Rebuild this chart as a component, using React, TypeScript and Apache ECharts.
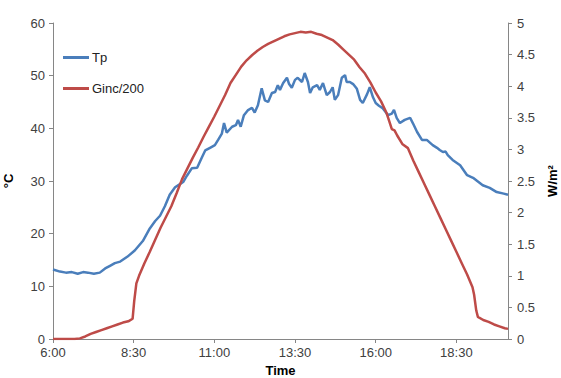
import React, { useEffect, useRef } from "react";
import * as echarts from "echarts";

// Tp (°C), left axis
const tpTimes = [
  "6:00", "6:13", "6:24", "6:35", "6:46", "6:56", "7:05", "7:16", "7:27", "7:37",
  "7:46", "7:55", "8:05", "8:18", "8:32", "8:47", "9:00", "9:10", "9:19", "9:28",
  "9:37", "9:47", "9:56", "10:02", "10:09", "10:18", "10:28", "10:37", "10:43", "10:52",
  "11:01", "11:07", "11:14", "11:18", "11:23", "11:33", "11:40", "11:44", "11:49", "11:55",
  "12:02", "12:10", "12:15", "12:21", "12:28", "12:34", "12:40", "12:47", "12:53", "12:58",
  "13:02", "13:08", "13:15", "13:19", "13:24", "13:30", "13:35", "13:43", "13:48", "13:54",
  "13:58", "14:03", "14:11", "14:16", "14:22", "14:29", "14:35", "14:40", "14:44", "14:50",
  "14:57", "15:03", "15:06", "15:12", "15:18", "15:25", "15:31", "15:36", "15:44", "15:49",
  "15:55", "16:00", "16:06", "16:13", "16:23", "16:30", "16:34", "16:39", "16:45", "16:54",
  "17:04", "17:09", "17:17", "17:26", "17:35", "17:46", "17:54", "17:59", "18:05", "18:10",
  "18:14", "18:23", "18:37", "18:50", "19:01", "19:10", "19:19", "19:32", "19:45", "19:58",
  "20:06",
];
const tpValues = [
  13.2, 12.8, 12.6, 12.7, 12.4, 12.7, 12.6, 12.4, 12.6, 13.4,
  13.9, 14.4, 14.7, 15.6, 16.8, 18.6, 21.0, 22.4, 23.4, 25.2,
  27.4, 28.8, 29.4, 29.8, 31.0, 32.4, 32.5, 34.5, 35.8, 36.3,
  36.8, 37.8, 39.0, 41.0, 39.2, 40.3, 40.6, 41.6, 40.3, 42.5,
  43.4, 43.9, 43.0, 44.4, 47.6, 45.3, 45.0, 46.7, 46.9, 48.2,
  47.3, 48.6, 49.6, 48.4, 47.7, 49.2, 49.6, 48.8, 50.5, 48.8,
  46.7, 47.8, 48.2, 47.3, 48.6, 46.3, 46.9, 47.8, 45.4, 46.3,
  49.6, 50.1, 48.8, 48.8, 48.4, 47.5, 45.4, 44.8, 46.5, 47.8,
  45.9, 44.8, 44.3, 43.8, 42.5, 42.8, 43.5, 42.0, 41.0, 41.6,
  42.0, 41.0, 39.3, 37.8, 37.8, 36.8, 36.3, 35.9, 35.5, 35.6,
  34.9, 34.0, 33.0, 31.1, 30.6, 29.9, 29.2, 28.7, 27.9, 27.6,
  27.4,
];

// Ginc/200 (W/m²), right axis
const gincTimes = [
  "6:00", "6:10", "6:20", "6:30", "6:40", "6:50", "7:00", "7:10", "7:20", "7:30",
  "7:40", "7:50", "8:00", "8:10", "8:20", "8:28", "8:31", "8:35", "8:40", "8:50",
  "9:00", "9:10", "9:20", "9:30", "9:40", "9:50", "10:00", "10:10", "10:20", "10:30",
  "10:40", "10:50", "11:00", "11:10", "11:20", "11:30", "11:40", "11:50", "12:00", "12:10",
  "12:20", "12:30", "12:40", "12:50", "13:00", "13:10", "13:20", "13:30", "13:40", "13:50",
  "14:00", "14:10", "14:20", "14:30", "14:40", "14:50", "15:00", "15:10", "15:20", "15:30",
  "15:40", "15:50", "16:00", "16:10", "16:20", "16:25", "16:30", "16:35", "16:40", "16:50",
  "17:00", "17:10", "17:20", "17:30", "17:40", "17:50", "18:00", "18:10", "18:20", "18:30",
  "18:40", "18:50", "19:00", "19:03", "19:07", "19:10", "19:20", "19:30", "19:40", "19:50",
  "20:00", "20:06",
];
const gincValues = [
  0, 0, 0, 0, 0, 0.01, 0.04, 0.08, 0.11, 0.14,
  0.17, 0.2, 0.23, 0.26, 0.28, 0.32, 0.6, 0.88, 1.0, 1.2,
  1.38, 1.57, 1.76, 1.93, 2.1, 2.31, 2.53, 2.7, 2.87, 3.03,
  3.2, 3.36, 3.52, 3.69, 3.86, 4.05, 4.18, 4.31, 4.41, 4.49,
  4.56, 4.62, 4.67, 4.71, 4.75, 4.79, 4.82, 4.84, 4.86, 4.85,
  4.86, 4.83, 4.81, 4.77, 4.73, 4.66, 4.58, 4.5, 4.42, 4.3,
  4.2, 4.06, 3.9, 3.76, 3.58, 3.45, 3.32, 3.3, 3.22, 3.08,
  3.02, 2.82, 2.64, 2.46, 2.28, 2.1, 1.92, 1.74, 1.56, 1.38,
  1.2, 1.02, 0.82, 0.7, 0.45, 0.35, 0.3, 0.27, 0.23, 0.2,
  0.17, 0.16,
];

const xMin = "6:00";
const xMax = "20:06";
const xInterval = 150;

const toMin = (s: string) => {
  const [h, m] = s.split(":").map(Number);
  return h * 60 + m;
};
const fmt = (v: number) => {
  const h = Math.floor(v / 60);
  const m = Math.round(v % 60);
  return `${h}:${String(m).padStart(2, "0")}`;
};

const FONT = "'Liberation Sans', Arial, sans-serif";
const AXIS_COLOR = "#868686";
const LABEL_COLOR = "#404040";

export default function App() {
  const ref = useRef<HTMLDivElement>(null);
  useEffect(() => {
    if (!ref.current) return;
    const chart = echarts.init(ref.current, null, { renderer: "svg" });
    const axisCommon = {
      axisLine: { show: true, lineStyle: { color: AXIS_COLOR, width: 1 } },
      axisTick: { show: true, length: 4, lineStyle: { color: AXIS_COLOR } },
      splitLine: { show: false },
    };
    chart.setOption({
      animation: false,
      textStyle: { fontFamily: FONT },
      grid: {
        left: 53,
        right: 53,
        top: 23,
        bottom: 39,
        containLabel: false,
        outerBoundsMode: "none",
      },
      legend: {
        orient: "vertical",
        left: 58,
        top: 46,
        icon: "rect",
        itemWidth: 26,
        itemHeight: 3,
        itemGap: 18,
        textStyle: { fontFamily: FONT, fontSize: 13, color: "#222", padding: [0, 0, 0, -2] },
        data: [{ name: "Tp" }, { name: "Ginc/200" }],
      },
      xAxis: {
        type: "value",
        min: toMin(xMin),
        max: toMin(xMax),
        interval: xInterval,
        name: "Time",
        nameLocation: "middle",
        nameGap: 25,
        nameTextStyle: { fontFamily: FONT, fontSize: 13, fontWeight: "bold", color: "#000" },
        ...axisCommon,
        axisLabel: {
          formatter: (v: number) => fmt(v),
          showMaxLabel: false,
          showMinLabel: true,
          margin: 7,
          fontSize: 13,
          color: LABEL_COLOR,
          fontFamily: FONT,
        },
      },
      yAxis: [
        {
          type: "value",
          position: "left",
          min: 0,
          max: 60,
          interval: 10,
          name: "°C",
          nameLocation: "middle",
          nameRotate: 90,
          nameGap: 38,
          nameTextStyle: { fontFamily: FONT, fontSize: 13, fontWeight: "bold", color: "#000" },
          ...axisCommon,
          axisLabel: { margin: 8, fontSize: 13, color: LABEL_COLOR, fontFamily: FONT },
        },
        {
          type: "value",
          position: "right",
          min: 0,
          max: 5,
          interval: 0.5,
          name: "W/m²",
          nameLocation: "middle",
          nameRotate: 90,
          nameGap: 36,
          nameTextStyle: { fontFamily: FONT, fontSize: 13, fontWeight: "bold", color: "#000" },
          ...axisCommon,
          axisLabel: { margin: 9, fontSize: 13, color: LABEL_COLOR, fontFamily: FONT },
        },
      ],
      series: [
        {
          name: "Tp",
          type: "line",
          yAxisIndex: 0,
          symbol: "none",
          lineStyle: { color: "#4a7ebb", width: 2.5 },
          itemStyle: { color: "#4a7ebb" },
          data: tpTimes.map((t, i) => [toMin(t), tpValues[i]]),
        },
        {
          name: "Ginc/200",
          type: "line",
          yAxisIndex: 1,
          symbol: "none",
          lineStyle: { color: "#be4b48", width: 2.5 },
          itemStyle: { color: "#be4b48" },
          data: gincTimes.map((t, i) => [toMin(t), gincValues[i]]),
        },
      ],
    });
    return () => chart.dispose();
  }, []);
  return <div ref={ref} style={{ width: 561, height: 378, position: "absolute", left: 0, top: 0 }} />;
}
